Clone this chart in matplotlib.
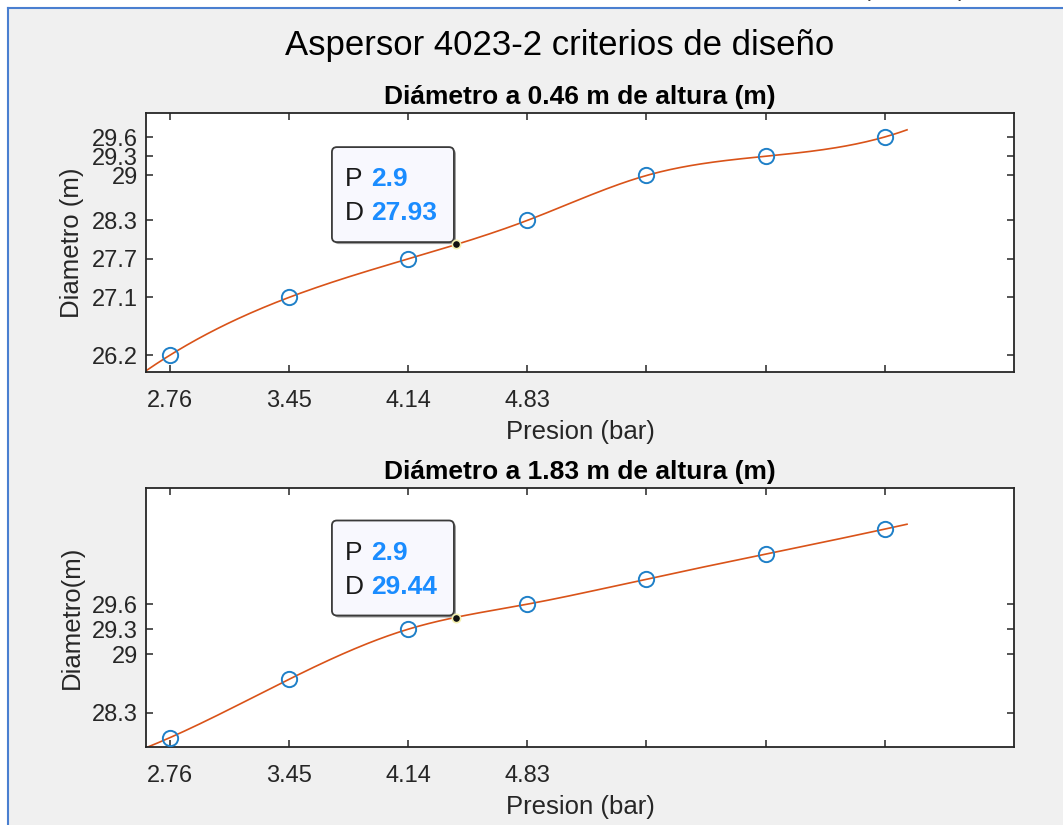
import numpy as np
import matplotlib
matplotlib.use('Agg')
import matplotlib.pyplot as plt
import matplotlib.patches as mpatches
import matplotlib.transforms as mtransforms

plt.rcParams['font.family'] = ['Liberation Sans', 'DejaVu Sans']

# Data
presion = [2.76, 3.45, 4.14, 4.83, 5.52, 6.21, 6.90]        # bar
diam_046 = [26.2, 27.1, 27.7, 28.3, 29.0, 29.3, 29.6]       # m
diam_183 = [28.0, 28.7, 29.3, 29.6, 29.9, 30.2, 30.5]       # m
xtick_labels = ['2.76', '3.45', '4.14', '4.83', '', '', '']
ytick_vals = [26.2, 27.1, 27.7, 28.3, 29, 29.3, 29.6]
curve_range = (2.62, 7.03)
tip_x = 4.416
tip_p = ['2.9', '2.9']
tip_d = [27.93, 29.44]
titles = ['Diámetro a 0.46 m de altura (m)', 'Diámetro a 1.83 m de altura (m)']
ylabels = ['Diametro (m)', 'Diametro(m)']
ylims = [(25.94, 29.97), (27.89, 30.99)]


def spline_nak(x, y, xq):
    # cubic spline, not-a-knot ends (like MATLAB spline)
    x = np.asarray(x, float)
    y = np.asarray(y, float)
    m = len(x) - 1
    A = np.zeros((4 * m, 4 * m))
    b = np.zeros(4 * m)
    r = 0
    for i in range(m):
        h = x[i + 1] - x[i]
        A[r, 4 * i] = 1
        b[r] = y[i]
        r += 1
        A[r, 4 * i:4 * i + 4] = [1, h, h ** 2, h ** 3]
        b[r] = y[i + 1]
        r += 1
    for i in range(m - 1):
        h = x[i + 1] - x[i]
        A[r, 4 * i:4 * i + 4] = [0, 1, 2 * h, 3 * h ** 2]
        A[r, 4 * (i + 1) + 1] = -1
        r += 1
        A[r, 4 * i:4 * i + 4] = [0, 0, 2, 6 * h]
        A[r, 4 * (i + 1) + 2] = -2
        r += 1
    A[r, 3] = 1
    A[r, 7] = -1
    r += 1
    A[r, 4 * (m - 2) + 3] = 1
    A[r, 4 * (m - 1) + 3] = -1
    coef = np.linalg.solve(A, b).reshape(m, 4)
    idx = np.clip(np.searchsorted(x, xq) - 1, 0, m - 1)
    t = xq - x[idx]
    c = coef[idx]
    return c[:, 0] + c[:, 1] * t + c[:, 2] * t ** 2 + c[:, 3] * t ** 3


W, H = 1063, 825
fig = plt.figure(figsize=(W / 100, H / 100), dpi=100)
fig.patch.set_facecolor('#f0f0f0')

# window frame bits
fig.patches.append(mpatches.Rectangle((0, 1 - 8 / H), 1, 8 / H, transform=fig.transFigure,
                                      facecolor='white', edgecolor='none', zorder=0))
fig.patches.append(mpatches.Rectangle((0, 0), 8 / W, 1, transform=fig.transFigure,
                                      facecolor='white', edgecolor='none', zorder=0))
fig.add_artist(plt.Line2D([8 / W, 1], [1 - 8 / H, 1 - 8 / H], transform=fig.transFigure,
                          color='#4a7fd0', lw=1.5))
fig.add_artist(plt.Line2D([8 / W, 8 / W], [0, 1 - 8 / H], transform=fig.transFigure,
                          color='#4a7fd0', lw=1.5))
fig.text(862 / W, 1 + 4 / H, '(', fontsize=17, color='#444444', va='baseline')
fig.text(958 / W, 1 + 4 / H, ')', fontsize=17, color='#444444', va='baseline')

fig.text(560 / W, 1 - 55 / H, 'Aspersor 4023-2 criterios de diseño', fontsize=25,
         ha='center', va='baseline', color='black')

ax_left, ax_w, ax_h = 146 / W, 868 / W, 258.4 / H
bottoms = [1 - 371.7 / H, 1 - 746.7 / H]

xx = np.linspace(curve_range[0], curve_range[1], 300)
for k, diam in enumerate([diam_046, diam_183]):
    ax = fig.add_axes([ax_left, bottoms[k], ax_w, ax_h])
    ax.set_facecolor('white')
    ax.plot(xx, spline_nak(presion, diam, xx), '-', color='#D95319', lw=1.2, zorder=2)
    ax.plot(presion, diam, 'o', mfc='none', mec='#1f80c8', ms=11, mew=1.4, zorder=3)

    ax.set_xticks(presion)
    ax.set_xticklabels(xtick_labels)
    ax.set_yticks(ytick_vals)
    ax.set_yticklabels([f'{v:g}' for v in ytick_vals])
    ax.set_xlim(2.62, 7.65)
    ax.set_ylim(*ylims[k])
    ax.tick_params(direction='in', length=5, width=1.1, colors='#262626',
                   labelsize=17, top=True, right=True, labelcolor='#262626')
    ax.tick_params(axis='x', pad=13)
    ax.tick_params(axis='y', pad=6)
    for sp in ax.spines.values():
        sp.set_color('#262626')
        sp.set_linewidth(1.3)

    ax.set_title(titles[k], fontsize=19, fontweight='bold', pad=7, color='black')
    ax.set_xlabel('Presion (bar)', fontsize=18.5, color='#262626')
    ax.xaxis.set_label_coords(0.5, -0.187)
    ax.xaxis.label.set_va('top')
    ax.set_ylabel(ylabels[k], fontsize=18.5, color='#262626')
    ax.yaxis.set_label_coords(-0.071, 0.5)

    # data tip
    anchor = mtransforms.ScaledTranslation(tip_x, tip_d[k], ax.transData)
    trans = mtransforms.Affine2D() + anchor
    shadow = mpatches.FancyBboxPatch((-122, 0), 122, 95,
                                     boxstyle='round,pad=0,rounding_size=5',
                                     transform=trans, facecolor='#9a9a9a',
                                     edgecolor='none', zorder=4, clip_on=False)
    box = mpatches.FancyBboxPatch((-124, 2), 122, 95,
                                  boxstyle='round,pad=0,rounding_size=5',
                                  transform=trans, facecolor='#f8f8fe',
                                  edgecolor='#3a3a3a', lw=1.3, zorder=5, clip_on=False)
    ax.add_patch(shadow)
    ax.add_patch(box)
    ax.text(-111, 65, 'P', transform=trans, fontsize=19, va='center', ha='left',
            color='#1a1a1a', zorder=6)
    ax.text(-111, 31, 'D', transform=trans, fontsize=19, va='center', ha='left',
            color='#1a1a1a', zorder=6)
    ax.text(-85, 65, tip_p[k], transform=trans, fontsize=19, va='center', ha='left',
            color='#1a8cff', fontweight='bold', zorder=6)
    ax.text(-85, 31, f'{tip_d[k]:.2f}', transform=trans, fontsize=19, va='center', ha='left',
            color='#1a8cff', fontweight='bold', zorder=6)
    ax.plot([tip_x], [tip_d[k]], 'o', ms=6, mfc='#111111', mec='#f4f0b0', mew=1.2, zorder=7)

fig.savefig('out.png', dpi=100, facecolor=fig.get_facecolor())
